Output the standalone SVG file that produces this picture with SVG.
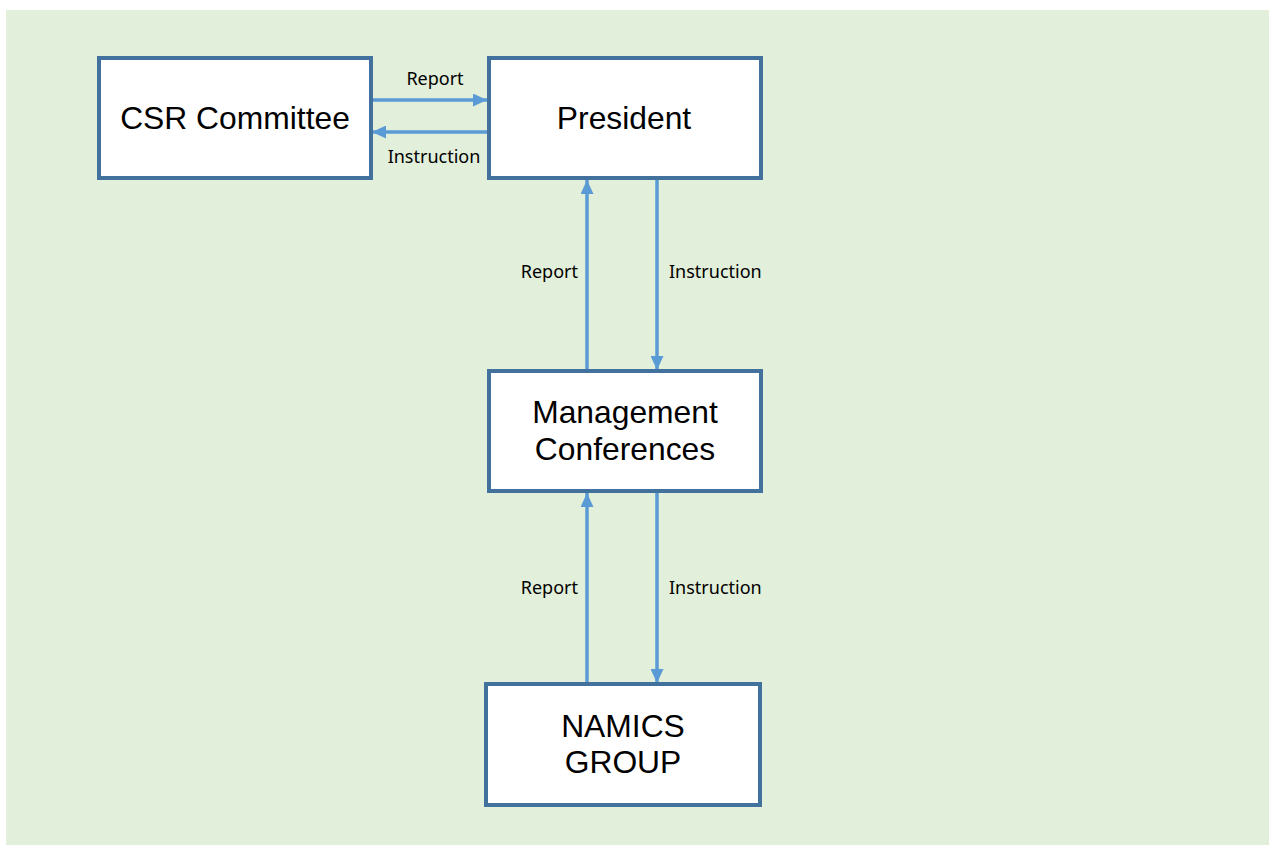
<svg xmlns="http://www.w3.org/2000/svg" width="1269" height="845" viewBox="0 0 1269 845">
<style>
.box{fill:#FFFFFF;stroke:#41719C;stroke-width:4}
.t{font-family:"Liberation Sans",Arial,sans-serif;font-size:31.8px;fill:#000;text-anchor:middle}
.lbl{font-family:"Noto Sans","Open Sans",sans-serif;font-size:18px;fill:#000}
.c{stroke:#5B9BD5;stroke-width:3.5;fill:none;marker-end:url(#ah)}
</style>
<defs>
<marker id="ah" markerUnits="userSpaceOnUse" markerWidth="14" markerHeight="13" refX="14" refY="6.5" orient="auto">
<path d="M0,0 L14,6.5 L0,13 z" fill="#5B9BD5"/>
</marker>
</defs>
<rect x="6" y="10" width="1263" height="835" fill="#E2EFDA"/>
<g id="connectors">
<line class="c" x1="373" y1="100" x2="487" y2="100"/>
<line class="c" x1="487" y1="132" x2="372" y2="132"/>
<line class="c" x1="587" y1="369" x2="587" y2="180"/>
<line class="c" x1="657" y1="180" x2="657" y2="370"/>
<line class="c" x1="587" y1="682" x2="587" y2="493"/>
<line class="c" x1="657" y1="493" x2="657" y2="683"/>
<text class="lbl" x="435" y="85" text-anchor="middle">Report</text>
<text class="lbl" x="434" y="163" text-anchor="middle">Instruction</text>
<text class="lbl" x="578" y="278" text-anchor="end">Report</text>
<text class="lbl" x="669" y="278">Instruction</text>
<text class="lbl" x="578" y="594" text-anchor="end">Report</text>
<text class="lbl" x="669" y="594">Instruction</text>
</g>
<g id="csr">
<rect class="box" x="99" y="58" width="272" height="120"/>
<text class="t" x="235" y="129">CSR Committee</text>
</g>
<g id="president">
<rect class="box" x="489" y="58" width="272" height="120"/>
<text class="t" x="624" y="129">President</text>
</g>
<g id="management">
<rect class="box" x="489" y="371" width="272" height="120"/>
<text class="t" x="625" y="423">Management</text>
<text class="t" x="625" y="460">Conferences</text>
</g>
<g id="namics">
<rect class="box" x="486" y="684" width="274" height="121"/>
<text class="t" x="623" y="737">NAMICS</text>
<text class="t" x="623" y="773">GROUP</text>
</g>
</svg>
